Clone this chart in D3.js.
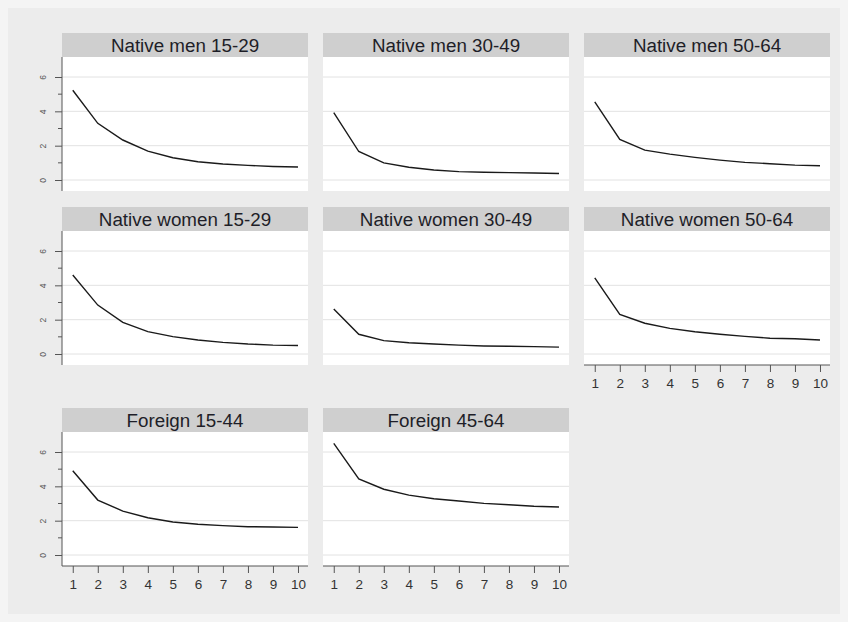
<!DOCTYPE html>
<html>
<head>
<meta charset="utf-8">
<script src="https://cdn.jsdelivr.net/npm/d3@7"></script>
<style>
  body { margin: 0; background: #f4f4f4; }
  svg { display: block; }
</style>
</head>
<body>
<div id="the_chart"></div>
<script>
// panel titles, in the order Stata lays them out
var titles = ["Native men 15-29", "Native men 30-49", "Native men 50-64",
  "Native women 15-29", "Native women 30-49", "Native women 50-64",
  "Foreign 15-44", "Foreign 45-64"];

var xvals = [1, 2, 3, 4, 5, 6, 7, 8, 9, 10];
var yticks = [0, 2, 4, 6];
var yminor = [1, 3, 5];

var men1529 = [5.23, 3.3, 2.33, 1.68, 1.3, 1.06, 0.93, 0.85, 0.79, 0.76];
var men3049 = [3.93, 1.66, 1.0, 0.74, 0.58, 0.49, 0.45, 0.43, 0.41, 0.38];
var men5064 = [4.55, 2.36, 1.74, 1.51, 1.32, 1.16, 1.03, 0.95, 0.87, 0.83];
var women1529 = [4.6, 2.85, 1.84, 1.3, 1.01, 0.82, 0.68, 0.58, 0.52, 0.5];
var women3049 = [2.62, 1.15, 0.78, 0.66, 0.58, 0.52, 0.47, 0.45, 0.43, 0.4];
var women5064 = [4.44, 2.31, 1.79, 1.49, 1.3, 1.15, 1.03, 0.92, 0.89, 0.82];
var foreign1544 = [4.91, 3.2, 2.56, 2.17, 1.92, 1.79, 1.71, 1.65, 1.63, 1.61];
var foreign4564 = [6.5, 4.43, 3.83, 3.49, 3.28, 3.15, 3.01, 2.93, 2.84, 2.8];

var series = [men1529, men3049, men5064, women1529, women3049, women5064,
  foreign1544, foreign4564];

var w = 848;
var h = 622;

var svg = d3.select("#the_chart")
  .append("svg")
  .attr("width", w)
  .attr("height", h);

svg.append("rect")
  .attr("x", 8).attr("y", 8)
  .attr("width", w - 16).attr("height", h - 16)
  .attr("fill", "#ececec");

var colX = [62, 323, 584];
var rowY = [33, 207, 408];
var panel_w = 246;
var head_h = 24;
var plot_h = 134;

var xscale = d3.scaleLinear()
  .domain([0.57, 10.4])
  .range([0, panel_w]);

var yscale = d3.scaleLinear()
  .domain([-0.64, 7.165])
  .range([plot_h, 0]);

var line = d3.line()
  .x(function (d, i) { return xscale(xvals[i]); })
  .y(function (d) { return yscale(d); });

series.forEach(function (data, k) {
  var col = k % 3;
  var row = Math.floor(k / 3);

  var g = svg.append("g")
    .attr("transform", "translate(" + colX[col] + "," + rowY[row] + ")");

  // header strip
  g.append("rect")
    .attr("width", panel_w)
    .attr("height", head_h)
    .attr("fill", "#cfcfcf");

  g.append("text")
    .attr("x", panel_w / 2)
    .attr("y", head_h / 2 + 6.8)
    .attr("text-anchor", "middle")
    .attr("font-family", "Liberation Sans, Arial, sans-serif")
    .attr("font-size", "18.8px")
    .attr("fill", "#1e1e28")
    .text(titles[k]);

  var p = g.append("g")
    .attr("transform", "translate(0," + head_h + ")");

  p.append("rect")
    .attr("width", panel_w)
    .attr("height", plot_h)
    .attr("fill", "white");

  p.selectAll("line.grid")
    .data(yticks)
    .enter().append("line")
    .attr("class", "grid")
    .attr("x1", 0)
    .attr("x2", panel_w)
    .attr("y1", function (d) { return yscale(d); })
    .attr("y2", function (d) { return yscale(d); })
    .attr("stroke", "#e2e2e2")
    .attr("stroke-width", 1);

  p.append("path")
    .datum(data)
    .attr("d", line)
    .attr("fill", "none")
    .attr("stroke", "#1a1a1a")
    .attr("stroke-width", 1.4);

  // y axis only on the first column
  if (col == 0) {
    var yaxis = d3.axisLeft()
      .scale(yscale)
      .tickValues(yticks)
      .tickSize(7)
      .tickPadding(8);

    var gY = p.append("g")
      .call(yaxis);
    gY.select(".domain").remove();
    gY.append("line")
      .attr("x1", 0).attr("x2", 0)
      .attr("y1", 0).attr("y2", plot_h)
      .attr("stroke", "#555");
    gY.selectAll(".tick line").attr("stroke", "#555");
    gY.selectAll(".tick text")
      .attr("font-family", "Liberation Sans, Arial, sans-serif")
      .attr("font-size", "8.5px")
      .attr("fill", "#555")
      .attr("text-anchor", "middle")
      .attr("x", 0)
      .attr("dy", 0)
      .attr("transform", "translate(-19,0) rotate(-90)")
      .attr("y", 3);

    p.selectAll("line.minor")
      .data(yminor)
      .enter().append("line")
      .attr("class", "minor")
      .attr("x1", -4).attr("x2", 0)
      .attr("y1", function (d) { return yscale(d); })
      .attr("y2", function (d) { return yscale(d); })
      .attr("stroke", "#555");
  }

  // x axis where nothing sits below the panel
  if (row == 2 || (row == 1 && col == 2)) {
    var xaxis = d3.axisBottom()
      .scale(xscale)
      .tickValues(xvals)
      .tickSize(7)
      .tickPadding(6)
      .tickFormat(d3.format("d"));

    var gX = p.append("g")
      .attr("transform", "translate(0," + plot_h + ")")
      .call(xaxis);
    gX.select(".domain").remove();
    gX.append("line")
      .attr("x1", 0).attr("x2", panel_w)
      .attr("stroke", "#555");
    gX.selectAll(".tick line").attr("stroke", "#555");
    gX.selectAll(".tick text")
      .attr("font-family", "Liberation Sans, Arial, sans-serif")
      .attr("font-size", "13.5px")
      .attr("fill", "#333");
  }
});
</script>
</body>
</html>
